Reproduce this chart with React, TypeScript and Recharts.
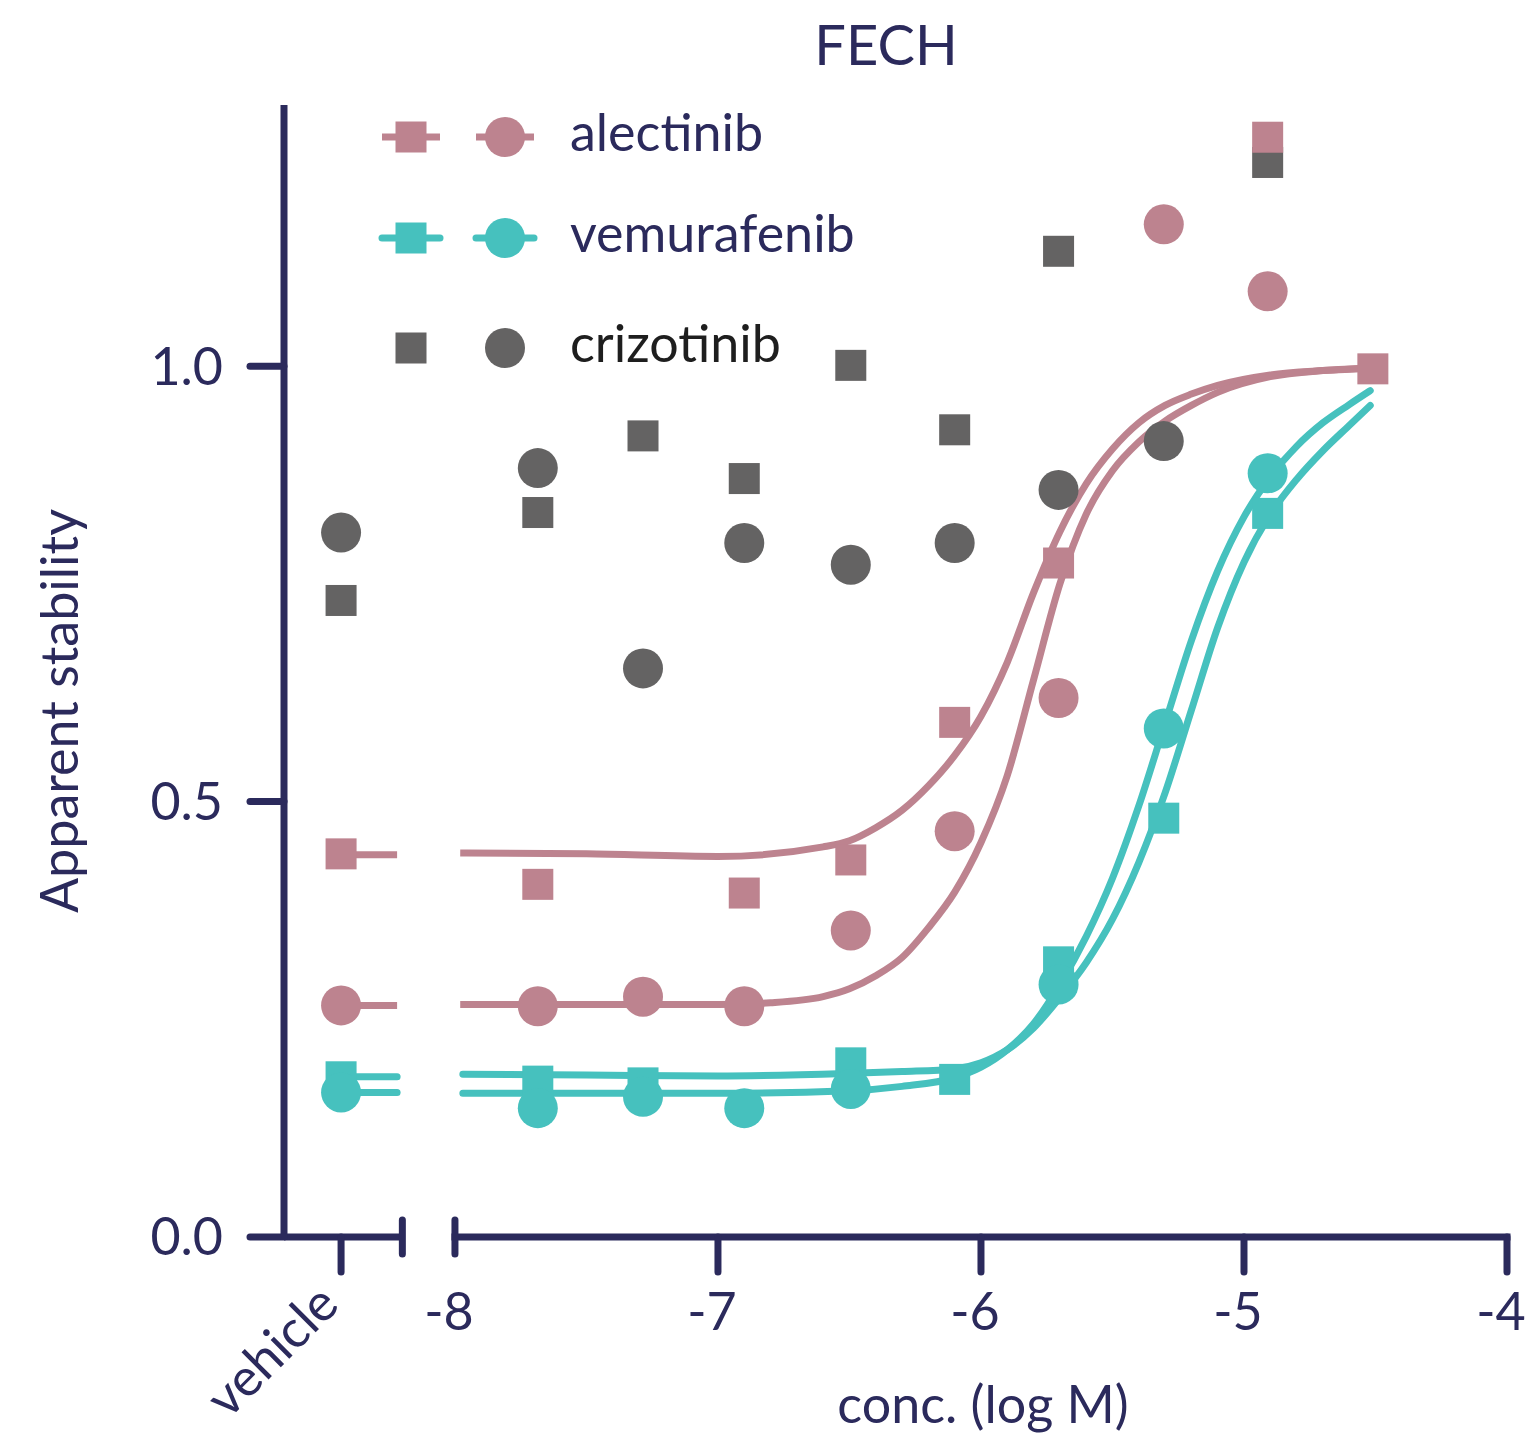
import React from 'react';
import { ComposedChart, Line, Scatter, XAxis, YAxis, ReferenceLine } from 'recharts';

const NAVY = '#2b2a5c';
const PINK = '#bd838f';
const TEAL = '#46c1be';
const GRAY = '#646363';
const FONT = 'Lato, "Noto Sans", sans-serif';

// x is log M; vehicle sits left of the axis break
const VEHICLE_X = -8.433;
const BREAK_X = -8.2;
const conc = [VEHICLE_X, -7.685, -7.285, -6.9, -6.495, -6.1, -5.705, -5.305, -4.91, -4.51];

// measured points (null = not shown)
const alectinibSq = [0.44, 0.405, null, 0.395, 0.433, 0.591, 0.774, null, 1.263, 0.997];
const alectinibCirc = [0.266, 0.265, 0.276, 0.265, 0.352, 0.466, 0.619, 1.163, 1.086, null];
const vemurafenibSq = [0.184, 0.179, 0.177, null, 0.2, 0.181, 0.316, 0.481, 0.831, null];
const vemurafenibCirc = [0.166, 0.148, 0.161, 0.148, 0.17, null, 0.29, 0.584, 0.877, null];
const crizotinibSq = [0.731, 0.832, 0.92, 0.871, 1.001, 0.927, 1.132, null, 1.234, null];
const crizotinibCirc = [0.809, 0.883, 0.653, 0.797, 0.772, 0.797, 0.858, 0.914, null, null];

// fitted curves
const alecSqFitX = [-7.98, -7.5, -7.0, -6.6, -6.5, -6.4, -6.3, -6.2, -6.1, -6.0, -5.9, -5.8, -5.7, -5.6, -5.5, -5.4, -5.3, -5.2, -5.1, -4.9, -4.7, -4.5];
const alecSqFit = [0.441, 0.44, 0.437, 0.448, 0.455, 0.47, 0.49, 0.518, 0.553, 0.598, 0.66, 0.74, 0.81, 0.865, 0.905, 0.935, 0.955, 0.968, 0.978, 0.99, 0.995, 0.998];
const alecCircFitX = [-7.98, -7.5, -7.0, -6.8, -6.6, -6.5, -6.4, -6.3, -6.2, -6.1, -6.0, -5.9, -5.8, -5.7, -5.6, -5.5, -5.4, -5.3, -5.2, -5.1, -4.9, -4.7, -4.5];
const alecCircFit = [0.267, 0.267, 0.267, 0.269, 0.276, 0.285, 0.3, 0.321, 0.355, 0.396, 0.453, 0.53, 0.64, 0.75, 0.83, 0.88, 0.913, 0.937, 0.955, 0.97, 0.988, 0.995, 0.998];
const vemFitX = [-7.97, -7.5, -7.0, -6.5, -6.3, -6.1, -6.0, -5.9, -5.8, -5.7, -5.6, -5.5, -5.4, -5.3, -5.2, -5.1, -5.0, -4.9, -4.8, -4.7, -4.6, -4.52];
const vemSqFit = [0.187, 0.186, 0.185, 0.188, 0.19, 0.193, 0.2, 0.215, 0.24, 0.275, 0.315, 0.365, 0.43, 0.51, 0.605, 0.7, 0.775, 0.83, 0.87, 0.903, 0.932, 0.955];
const vemCircFit = [0.165, 0.165, 0.165, 0.168, 0.173, 0.183, 0.195, 0.215, 0.245, 0.29, 0.345, 0.412, 0.495, 0.59, 0.685, 0.765, 0.827, 0.873, 0.908, 0.935, 0.956, 0.972];

// fit bottoms drawn as a short dash at the vehicle position
const vehicleFit = { alecSq: 0.439, alecCirc: 0.266, vemSq: 0.184, vemCirc: 0.166 };
const DASH_END = -8.22;

const xTicks = [VEHICLE_X, BREAK_X, -8, -7, -6, -5, -4];
const yTicks = [0, 0.5, 1.0];

const toPoints = (vals: (number | null)[]) =>
  conc.map((x, i) => ({ x, y: vals[i] })).filter((p) => p.y !== null);
const toCurve = (xs: number[], ys: number[]) => xs.map((x, i) => ({ x, y: ys[i] }));
const dash = (v: number) => [{ x: VEHICLE_X, y: v }, { x: DASH_END, y: v }];

const Square = (props: any) => {
  const { cx, cy, fill } = props;
  if (cx == null || cy == null) return null;
  return <rect x={cx - 15.5} y={cy - 15.5} width={31} height={31} fill={fill} />;
};
const Dot = (props: any) => {
  const { cx, cy, fill } = props;
  if (cx == null || cy == null) return null;
  return <circle cx={cx} cy={cy} r={20} fill={fill} />;
};

const XTick = (props: any) => {
  const { x, y, payload } = props;
  const v = payload.value;
  const stroke = { stroke: NAVY, strokeWidth: 7, strokeLinecap: 'round' as const };
  if (v === BREAK_X) {
    return <line x1={x} x2={x} y1={y - 17} y2={y + 17} {...stroke} />;
  }
  if (v === VEHICLE_X) {
    return (
      <g>
        <line x1={x} x2={x} y1={y} y2={y + 35} {...stroke} />
        <text
          x={x}
          y={y + 70}
          textAnchor="end"
          transform={`rotate(-45, ${x}, ${y + 70})`}
          fill={NAVY}
          fontSize={52}
          fontFamily={FONT}
        >
          vehicle
        </text>
      </g>
    );
  }
  return (
    <g>
      {v === -8 ? (
        <line x1={x} x2={x} y1={y - 17} y2={y + 17} {...stroke} />
      ) : (
        <line x1={x} x2={x} y1={y} y2={y + 35} {...stroke} />
      )}
      <text x={x - 6} y={y + 93} textAnchor="middle" fill={NAVY} fontSize={52} fontFamily={FONT}>
        {v}
      </text>
    </g>
  );
};

const legendRows = [
  { name: 'alectinib', color: PINK, line: true, cap: 'butt', text: NAVY, y: 137 },
  { name: 'vemurafenib', color: TEAL, line: true, cap: 'round', text: NAVY, y: 238 },
  { name: 'crizotinib', color: GRAY, line: false, cap: 'butt', text: '#1e1e1e', y: 348 },
];

const App = () => {
  return (
    <div style={{ position: 'absolute', left: 0, top: 0, width: 1527, height: 1440, background: '#fff' }}>
      <ComposedChart width={1527} height={1440} margin={{ top: 105, right: 20, bottom: 0, left: 0 }}>
        <XAxis
          type="number"
          dataKey="x"
          domain={[-8.65, -4]}
          ticks={xTicks}
          interval={0}
          allowDataOverflow
          axisLine={false}
          tickLine={false}
          tickSize={0}
          tickMargin={0}
          height={203}
          tick={<XTick />}
        />
        <YAxis
          type="number"
          dataKey="y"
          domain={[0, 1.3]}
          ticks={yTicks}
          width={284}
          axisLine={{ stroke: NAVY, strokeWidth: 7 }}
          tickLine={{ stroke: NAVY, strokeWidth: 7, strokeLinecap: 'round' }}
          tickSize={34}
          tickMargin={27}
          tickFormatter={(v: number) => v.toFixed(1)}
          tick={{ fill: NAVY, fontSize: 52, fontFamily: FONT }}
        />
        <ReferenceLine
          segment={[{ x: -8.65, y: 0 }, { x: BREAK_X, y: 0 }]}
          stroke={NAVY}
          strokeWidth={7}
          ifOverflow="visible"
        />
        <ReferenceLine
          segment={[{ x: -8, y: 0 }, { x: -4, y: 0 }]}
          stroke={NAVY}
          strokeWidth={7}
          strokeLinecap="square"
          ifOverflow="visible"
        />

        <Scatter data={toPoints(crizotinibSq)} fill={GRAY} shape={(p: any) => <Square {...p} />} isAnimationActive={false} />
        <Scatter data={toPoints(crizotinibCirc)} fill={GRAY} shape={(p: any) => <Dot {...p} />} isAnimationActive={false} />

        <Line data={dash(vehicleFit.alecSq)} dataKey="y" type="linear" stroke={PINK} strokeWidth={7} dot={false} activeDot={false} isAnimationActive={false} />
        <Line data={dash(vehicleFit.alecCirc)} dataKey="y" type="linear" stroke={PINK} strokeWidth={7} dot={false} activeDot={false} isAnimationActive={false} />
        <Line data={toCurve(alecSqFitX, alecSqFit)} dataKey="y" type="monotone" stroke={PINK} strokeWidth={7} dot={false} activeDot={false} isAnimationActive={false} />
        <Line data={toCurve(alecCircFitX, alecCircFit)} dataKey="y" type="monotone" stroke={PINK} strokeWidth={7} dot={false} activeDot={false} isAnimationActive={false} />
        <Scatter data={toPoints(alectinibSq)} fill={PINK} shape={(p: any) => <Square {...p} />} isAnimationActive={false} />
        <Scatter data={toPoints(alectinibCirc)} fill={PINK} shape={(p: any) => <Dot {...p} />} isAnimationActive={false} />

        <Line data={dash(vehicleFit.vemSq)} dataKey="y" type="linear" stroke={TEAL} strokeWidth={7} strokeLinecap="round" dot={false} activeDot={false} isAnimationActive={false} />
        <Line data={dash(vehicleFit.vemCirc)} dataKey="y" type="linear" stroke={TEAL} strokeWidth={7} strokeLinecap="round" dot={false} activeDot={false} isAnimationActive={false} />
        <Line data={toCurve(vemFitX, vemSqFit)} dataKey="y" type="monotone" stroke={TEAL} strokeWidth={7} strokeLinecap="round" dot={false} activeDot={false} isAnimationActive={false} />
        <Line data={toCurve(vemFitX, vemCircFit)} dataKey="y" type="monotone" stroke={TEAL} strokeWidth={7} strokeLinecap="round" dot={false} activeDot={false} isAnimationActive={false} />
        <Scatter data={toPoints(vemurafenibSq)} fill={TEAL} shape={(p: any) => <Square {...p} />} isAnimationActive={false} />
        <Scatter data={toPoints(vemurafenibCirc)} fill={TEAL} shape={(p: any) => <Dot {...p} />} isAnimationActive={false} />
      </ComposedChart>

      {/* title, axis titles and legend */}
      <svg width={1527} height={1440} style={{ position: 'absolute', left: 0, top: 0, pointerEvents: 'none' }}>
        <text x={886} y={65} textAnchor="middle" fill={NAVY} fontSize={56} fontFamily={FONT}>FECH</text>
        <text
          x={78}
          y={711}
          textAnchor="middle"
          transform="rotate(-90, 78, 711)"
          fill={NAVY}
          fontSize={52}
          fontFamily={FONT}
        >
          Apparent stability
        </text>
        <text x={983} y={1423} textAnchor="middle" fill={NAVY} fontSize={52} fontFamily={FONT}>conc. (log M)</text>
        {legendRows.map((r) => (
          <g key={r.name}>
            {r.line && (
              <>
                <line x1={382} x2={440} y1={r.y} y2={r.y} stroke={r.color} strokeWidth={7} strokeLinecap={r.cap as any} />
                <line x1={476} x2={534} y1={r.y} y2={r.y} stroke={r.color} strokeWidth={7} strokeLinecap={r.cap as any} />
              </>
            )}
            <rect x={411 - 15.5} y={r.y - 15.5} width={31} height={31} fill={r.color} />
            <circle cx={505} cy={r.y} r={20} fill={r.color} />
            <text x={570} y={r.y + 14} fill={r.text} fontSize={52} fontFamily={FONT}>{r.name}</text>
          </g>
        ))}
      </svg>
    </div>
  );
};

export default App;
